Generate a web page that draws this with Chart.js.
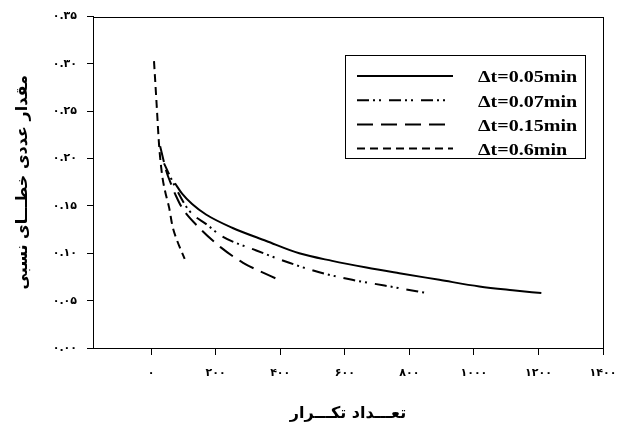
<!DOCTYPE html>
<html>
<head>
<meta charset="utf-8">
<script src="https://cdn.jsdelivr.net/npm/chart.js@4.4.0/dist/chart.umd.min.js"></script>
<style>
	html, body { margin: 0; padding: 0; background: #fff; }
</style>
</head>
<body>
<canvas id="chart" width="642" height="428"></canvas>
<script>
// series labels (legend)
const seriesLabels = ['Δt=0.05min', 'Δt=0.07min', 'Δt=0.15min', 'Δt=0.6min'];

// Δt = 0.05 min
const iter005 = [74, 96, 127, 170, 251, 357, 459, 561, 667, 769, 893, 1017, 1120, 1209];
const err005 = [0.174, 0.163, 0.152, 0.141, 0.127, 0.113, 0.100, 0.092, 0.085, 0.079, 0.072, 0.065, 0.061, 0.058];
// Δt = 0.07 min
const iter007 = [40, 78, 118, 174, 220, 326, 428, 521, 623, 723, 822, 856];
const err007 = [0.195, 0.168, 0.145, 0.130, 0.118, 0.103, 0.090, 0.080, 0.072, 0.066, 0.060, 0.058];
// Δt = 0.15 min
const iter015 = [28, 47, 62, 78, 96, 149, 217, 285, 357, 403];
const err015 = [0.213, 0.187, 0.173, 0.160, 0.148, 0.127, 0.106, 0.090, 0.078, 0.071];
// Δt = 0.6 min
const iter06 = [9, 17, 25, 34, 43, 56, 66, 80, 104];
const err06 = [0.303, 0.258, 0.213, 0.183, 0.166, 0.148, 0.129, 0.114, 0.094];

// axis ticks
const xTicks = [0, 200, 400, 600, 800, 1000, 1200, 1400];
const yTicks = [0, 0.05, 0.10, 0.15, 0.20, 0.25, 0.30, 0.35];

const xTitle = 'تعـــداد تکـــرار';
const yTitle = 'مقدار عددی خطـــای نسبی';

// western digits -> persian digits
const toFa = (s) => String(s).replace(/[0-9]/g, (d) => '۰۱۲۳۴۵۶۷۸۹'[d]);
const toPoints = (xs, ys) => xs.map((x, i) => ({ x: x, y: ys[i] }));

const dashes = [[], [12, 4, 2, 4, 2, 8], [16, 8], [8, 5]];
const seriesData = [
	toPoints(iter005, err005),
	toPoints(iter007, err007),
	toPoints(iter015, err015),
	toPoints(iter06, err06),
];

//Legend inside a framed box, plus the closed plot frame
const boxLegend = {
	id: 'boxLegend',
	afterDraw(chart) {
		const ctx = chart.ctx;
		const a = chart.chartArea;
		ctx.save();
		ctx.strokeStyle = '#000';
		ctx.lineWidth = 1;
		ctx.strokeRect(Math.round(a.left) + 0.5, Math.round(a.top) + 0.5, Math.round(a.right - a.left), Math.round(a.bottom - a.top));
		ctx.strokeRect(345.5, 55.5, 240, 103);
		chart.data.datasets.forEach((ds, i) => {
			const y = 76 + i * 24.2;
			ctx.beginPath();
			ctx.setLineDash(ds.borderDash);
			ctx.lineWidth = 2;
			ctx.moveTo(357, y);
			ctx.lineTo(453, y);
			ctx.stroke();
			ctx.setLineDash([]);
			ctx.save();
			ctx.translate(478, y + 2);
			ctx.scale(1.18, 1);
			ctx.font = 'bold 17px "Liberation Serif"';
			ctx.textBaseline = 'middle';
			ctx.fillStyle = '#000';
			ctx.fillText(ds.label, 0, 0);
			ctx.restore();
		});
		ctx.restore();
	},
};

const tickFont = { family: 'DejaVu Sans', size: 11, weight: 'bold' };

new Chart(document.getElementById('chart'), {
	type: 'line',
	plugins: [boxLegend],
	data: {
		datasets: seriesData.map((pts, i) => ({
			label: seriesLabels[i],
			data: pts,
			borderColor: '#000',
			borderWidth: 2,
			borderDash: dashes[i],
			pointRadius: 0,
			fill: false,
			cubicInterpolationMode: 'monotone',
		})),
	},
	options: {
		responsive: false,
		devicePixelRatio: 1,
		animation: false,
		layout: { padding: { top: 14, right: 39, left: 0, bottom: 0 } },
		plugins: {
			legend: { display: false },
			tooltip: { enabled: false },
		},
		scales: {
			x: {
				type: 'linear',
				min: -180,
				max: 1400,
				afterBuildTicks: (s) => { s.ticks = xTicks.map((v) => ({ value: v })); },
				afterFit: (s) => { s.height = 80; },
				grid: { drawOnChartArea: false, tickLength: 7, color: '#000' },
				border: { color: '#000' },
				ticks: {
					color: '#000',
					font: tickFont,
					padding: 12,
					maxRotation: 0,
					callback: (v) => toFa(v),
				},
				title: {
					display: true,
					text: xTitle,
					color: '#000',
					font: { family: 'DejaVu Sans', size: 16, weight: 'bold' },
					padding: { top: 0, bottom: 5 },
				},
			},
			y: {
				min: 0,
				max: 0.35,
				afterBuildTicks: (s) => { s.ticks = yTicks.map((v) => ({ value: v })); },
				afterFit: (s) => { s.width = 93; },
				grid: { drawOnChartArea: false, tickLength: 6, color: '#000' },
				border: { color: '#000' },
				ticks: {
					color: '#000',
					font: tickFont,
					padding: 10,
					callback: (v) => toFa(v.toFixed(2)),
				},
				title: {
					display: true,
					text: yTitle,
					color: '#000',
					font: { family: 'DejaVu Sans', size: 16, weight: 'bold' },
					padding: { top: 13, bottom: 0 },
				},
			},
		},
	},
});
</script>
</body>
</html>
